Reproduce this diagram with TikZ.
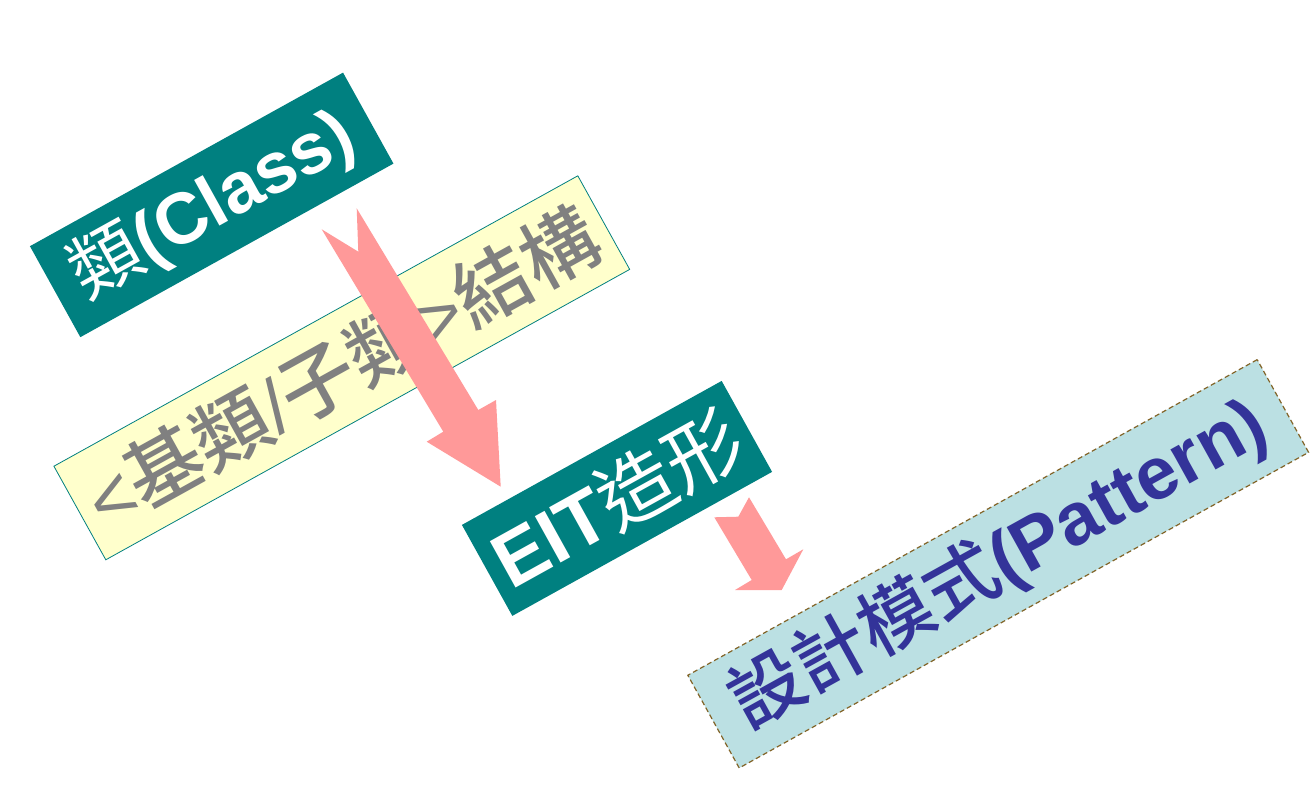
\documentclass[tikz,border=0pt]{standalone}
\usepackage{fontspec}
\setmainfont{Liberation Sans}
\newfontfamily\cjkm{Noto Sans CJK TC}[UprightFont={* Medium},BoldFont={* Medium}]
\newfontfamily\cjkr{Noto Sans CJK TC}[BoldFont={Noto Sans CJK TC}]
\definecolor{teal}{RGB}{0,128,128}
\definecolor{paleyellow}{RGB}{255,255,204}
\definecolor{paleblue}{RGB}{187,224,227}
\definecolor{dashbrown}{RGB}{130,100,40}
\definecolor{arrowpink}{RGB}{255,153,153}
\definecolor{textgray}{RGB}{128,128,128}
\definecolor{textblue}{RGB}{51,51,153}
\begin{document}
\begin{tikzpicture}[x=1pt,y=-1pt,
  tealbox/.style={fill=teal,draw=none,text=white,rotate=29,inner sep=0pt,
    minimum height=104pt,font=\fontsize{72}{72}\selectfont\bfseries},
  yellowbox/.style={fill=paleyellow,draw=teal,line width=0.8pt,text=textgray,rotate=29,
    inner sep=0pt,minimum width=599pt,minimum height=107pt,font=\fontsize{77}{77}\selectfont},
  bluebox/.style={fill=paleblue,draw=dashbrown,dash pattern=on 5pt off 3pt,line width=1.2pt,
    text=textblue,rotate=29,inner sep=0pt,minimum width=651pt,minimum height=106pt,
    font=\fontsize{74}{74}\selectfont\bfseries},
  blockarrow/.style={fill=arrowpink,draw=none}]
\useasboundingbox (0,0) rectangle (1316,810);
\fill[white] (0,0) rectangle (1316,810);

\node[tealbox,minimum width=358pt] (cls) at (211.7,204.9) {{\cjkr 類}(Class)};
\node[yellowbox] (struct) at (341.8,367.8) {<{\cjkm 基類}/{\cjkm 子類}>{\cjkm 結構}};

% big notched arrow
\coordinate (a1tl) at (321.7,229.3);
\coordinate (a1n) at (358.3,251.7);
\coordinate (a1tr) at (356.7,208.3);
\coordinate (a1sr) at (478.3,410);
\coordinate (a1hr) at (496,400);
\coordinate (a1tip) at (500.7,486.7);
\coordinate (a1hl) at (426.7,441.7);
\coordinate (a1sl) at (443.3,431.7);
\fill[blockarrow] (a1tl) -- (a1n) -- (a1tr) -- (a1sr) -- (a1hr) -- (a1tip) -- (a1hl) -- (a1sl) -- cycle;

\node[tealbox,minimum width=297pt,font=\fontsize{77}{77}\selectfont\bfseries] (eit) at (617,498.4) {EIT{\cjkr 造形}};

% small notched arrow (clipped at bottom)
\coordinate (a2tl) at (714.3,517.3);
\coordinate (a2n) at (738.3,516.7);
\coordinate (a2tr) at (749,497.3);
\coordinate (a2sr) at (786,559.3);
\coordinate (a2hr) at (803.3,549.3);
\coordinate (a2cr) at (781.7,590);
\coordinate (a2cl) at (735,590);
\coordinate (a2sl) at (751.7,580);
\fill[blockarrow] (a2tl) -- (a2n) -- (a2tr) -- (a2sr) -- (a2hr) -- (a2cr) -- (a2cl) -- (a2sl) -- cycle;

\node[bluebox] (pattern) at (998.2,563.8) {{\cjkm 設計模式}(Pattern)};
\end{tikzpicture}
\end{document}
